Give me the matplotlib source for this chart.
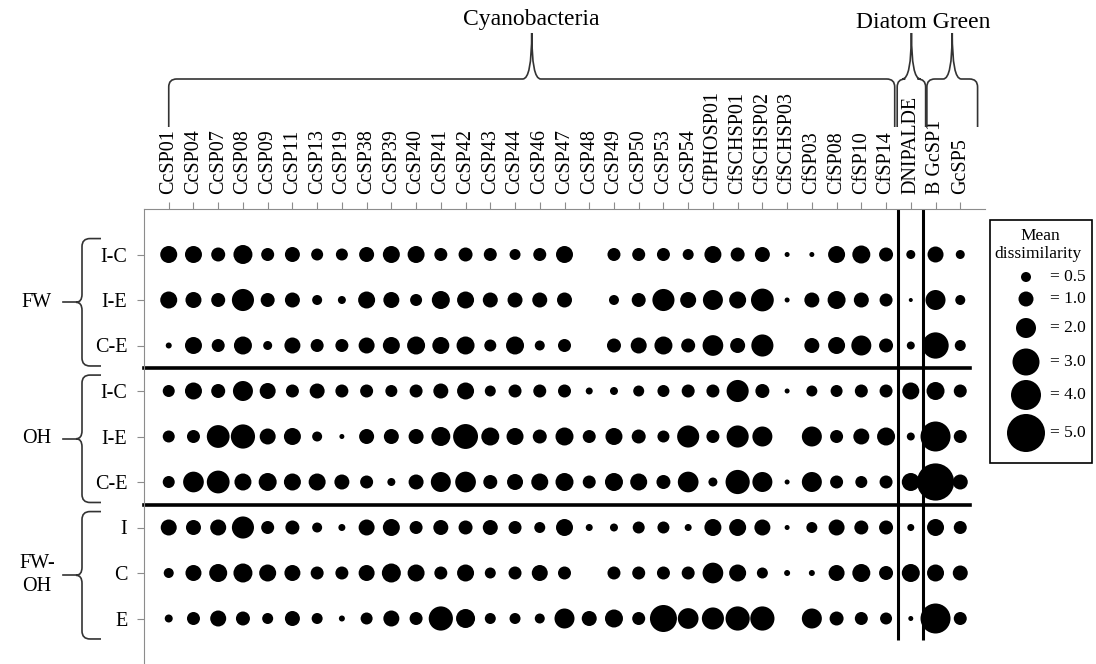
import numpy as np
import matplotlib
matplotlib.use("Agg")
import matplotlib.pyplot as plt
from matplotlib.path import Path
from matplotlib.patches import PathPatch, Rectangle

plt.rcParams['font.family'] = ['Liberation Serif', 'DejaVu Serif']

nan = np.nan

taxa = ["CcSP01", "CcSP04", "CcSP07", "CcSP08", "CcSP09", "CcSP11", "CcSP13",
        "CcSP19", "CcSP38", "CcSP39", "CcSP40", "CcSP41", "CcSP42", "CcSP43",
        "CcSP44", "CcSP46", "CcSP47", "CcSP48", "CcSP49", "CcSP50", "CcSP53",
        "CcSP54", "CfPHOSP01", "CfSCHSP01", "CfSCHSP02", "CfSCHSP03", "CfSP03",
        "CfSP08", "CfSP10", "CfSP14", "DNIPALDE", "B GcSP1", "GcSP5"]
row_labels = ["I-C", "I-E", "C-E", "I-C", "I-E", "C-E", "I", "C", "E"]
groups = ["FW", "OH", "FW-\nOH"]
taxon_groups = ["Cyanobacteria", "Diatom Green"]

# mean dissimilarity, one list per row (nan = no bubble)
fw_ic = [1.4, 1.4, 0.9, 1.8, 0.8, 1.0, 0.7, 0.7, 1.0, 1.4, 1.4, 0.8, 0.9, 0.8, 0.6, 0.8,
         1.4, nan, 0.8, 0.8, 0.8, 0.6, 1.4, 0.9, 1.0, 0.25, 0.25, 1.4, 1.6, 0.9, 0.45, 1.2, 0.45]
fw_ie = [1.4, 1.2, 0.9, 2.3, 0.9, 1.0, 0.5, 0.4, 1.4, 1.2, 0.7, 1.6, 1.4, 1.0, 1.0, 1.0,
         1.0, nan, 0.5, 0.9, 2.3, 1.2, 2.0, 1.4, 2.4, 0.25, 1.0, 1.6, 1.0, 0.8, 0.2, 2.0, 0.5]
fw_ce = [0.3, 1.4, 0.8, 1.6, 0.45, 1.2, 0.8, 0.8, 1.2, 1.4, 1.6, 1.4, 1.6, 0.7, 1.6, 0.5,
         0.8, nan, 0.9, 1.2, 1.6, 0.9, 2.1, 1.0, 2.3, nan, 1.0, 1.4, 2.0, 0.9, 0.4, 2.9, 0.6]
oh_ic = [0.7, 1.4, 0.9, 2.0, 1.2, 0.8, 1.0, 0.8, 0.8, 0.7, 0.8, 1.0, 1.4, 0.6, 0.8, 0.8,
         0.8, 0.35, 0.4, 0.6, 0.7, 0.8, 0.8, 2.3, 0.9, 0.25, 0.6, 0.7, 0.8, 0.8, 1.4, 1.6, 0.8]
oh_ie = [0.7, 0.8, 2.4, 2.6, 1.2, 1.4, 0.5, 0.25, 1.0, 1.0, 1.0, 1.8, 2.7, 1.6, 1.4, 0.9,
         1.6, 0.8, 1.4, 0.9, 0.7, 2.3, 0.8, 2.3, 2.0, nan, 2.0, 0.8, 1.2, 1.6, 0.4, 4.0, 0.8]
oh_ce = [0.7, 2.1, 2.4, 1.4, 1.6, 1.4, 1.4, 1.0, 0.8, 0.4, 1.0, 2.0, 2.1, 0.9, 1.2, 1.4,
         1.6, 0.8, 1.6, 1.4, 0.9, 2.1, 0.45, 2.6, 2.0, 0.25, 2.0, 0.8, 0.7, 0.8, 1.6, 4.9, 1.0]
fwoh_i = [1.2, 1.0, 1.2, 2.3, 0.8, 0.9, 0.5, 0.35, 1.2, 1.4, 0.8, 1.0, 0.9, 1.0, 0.8, 0.6,
          1.4, 0.35, 0.4, 0.7, 0.7, 0.35, 1.4, 1.4, 1.2, 0.25, 0.6, 1.2, 0.9, 0.9, 0.35, 1.4, 0.8]
fwoh_c = [0.5, 1.2, 1.6, 1.8, 1.4, 1.2, 0.8, 0.8, 1.2, 1.8, 1.4, 0.8, 1.4, 0.6, 0.8, 1.2,
          0.8, nan, 0.8, 0.8, 0.8, 0.8, 2.1, 1.4, 0.6, 0.3, 0.3, 1.2, 1.6, 0.9, 1.6, 1.4, 1.0]
fwoh_e = [0.4, 0.8, 1.2, 0.9, 0.6, 1.0, 0.6, 0.3, 0.7, 1.2, 0.8, 2.6, 1.8, 0.6, 0.6, 0.5,
          2.0, 1.0, 1.6, 0.8, 3.0, 2.1, 2.3, 2.6, 2.6, nan, 2.0, 0.9, 0.8, 0.7, 0.25, 4.0, 0.8]
rows = [fw_ic, fw_ie, fw_ce, oh_ic, oh_ie, oh_ce, fwoh_i, fwoh_c, fwoh_e]

key_values = [0.5, 1.0, 2.0, 3.0, 4.0, 5.0]
key_diam_px = [10, 15, 20, 27, 30, 38]


def bubble_size(v):
    d = np.interp(v, [0] + key_values, [0] + key_diam_px)
    return (d * 0.72) ** 2


W, H = 1096, 664
fig = plt.figure(figsize=(W / 100, H / 100), dpi=100)
ax = fig.add_axes([144 / W, 0, (985 - 144) / W, (664 - 209) / H])
ax.set_xlim(0, len(taxa) + 1)
ax.set_ylim(len(rows) + 1, 0)

cols = np.arange(1, len(taxa) + 1)
for i, vals in enumerate(rows):
    vals = np.array(vals, dtype=float)
    ok = ~np.isnan(vals)
    ax.scatter(cols[ok], np.full(ok.sum(), i + 1), s=bubble_size(vals[ok]),
               color='black', edgecolors='none', clip_on=False, zorder=3)

ax.set_xticks(cols)
ax.set_xticklabels(taxa, rotation=90, fontsize=14.5)
ax.xaxis.tick_top()
ax.set_yticks(np.arange(1, len(rows) + 1))
ax.set_yticklabels(row_labels, fontsize=14.5)
ax.tick_params(axis='x', direction='out', length=5, color='#8c8c8c', pad=6)
ax.tick_params(axis='y', direction='out', length=5, color='#8c8c8c', pad=7)
for s in ['right', 'bottom']:
    ax.spines[s].set_visible(False)
for s in ['top', 'left']:
    ax.spines[s].set_color('#8c8c8c')

# separators between sites and taxon groups
ax.plot([0, 33.4], [3.5, 3.5], color='black', lw=2.6, clip_on=False)
ax.plot([0, 33.4], [6.5, 6.5], color='black', lw=2.6, clip_on=False)
ax.vlines([30.5, 31.5], 0, 9.47, color='black', lw=2.2)

# overlay in pixel coordinates for braces and the size key
ov = fig.add_axes([0, 0, 1, 1])
ov.set_xlim(0, W)
ov.set_ylim(H, 0)
ov.axis('off')


def px(x, y):
    X, Y = ax.transData.transform((x, y))
    return X, H - Y


C3, L, M = Path.CURVE3, Path.LINETO, Path.MOVETO


def top_brace(xa, xb, y_end=127, y_line=79, y_tip=33, r=8, rt=9):
    x0 = px(xa, 0)[0]
    x1 = px(xb, 0)[0]
    xm = (x0 + x1) / 2
    verts = [(x0, y_end), (x0, y_line + r), (x0, y_line), (x0 + r, y_line),
             (xm - rt, y_line), (xm, y_line), (xm, y_tip), (xm, y_line), (xm + rt, y_line),
             (x1 - r, y_line), (x1, y_line), (x1, y_line + r), (x1, y_end)]
    codes = [M, L, C3, C3, L, C3, C3, C3, C3, L, C3, C3, L]
    ov.add_patch(PathPatch(Path(verts, codes), fill=False, lw=1.2, color='#333333'))
    return xm


def left_brace(ra, rb, x_end=101, x_line=82, x_tip=76, x_dash=63, r=8, rt=8):
    y0 = px(0, ra)[1]
    y1 = px(0, rb)[1]
    ym = (y0 + y1) / 2
    verts = [(x_end, y0), (x_line + r, y0), (x_line, y0), (x_line, y0 + r),
             (x_line, ym - rt), (x_line, ym), (x_tip, ym), (x_line, ym), (x_line, ym + rt),
             (x_line, y1 - r), (x_line, y1), (x_line + r, y1), (x_end, y1)]
    codes = [M, L, C3, C3, L, C3, C3, C3, C3, L, C3, C3, L]
    ov.add_patch(PathPatch(Path(verts, codes), fill=False, lw=1.2, color='#333333'))
    ov.plot([x_dash, x_tip], [ym, ym], color='#333333', lw=1.2)
    return ym


cx = top_brace(1, 30.35)
top_brace(30.45, 31.6)
top_brace(31.65, 33.7)
ov.text(cx, 20, taxon_groups[0], ha='center', va='center', fontsize=17)
ov.text(px(31.5, 0)[0], 22, taxon_groups[1], ha='center', va='center', fontsize=17)

for g, (ra, rb) in zip(groups, [(0.65, 3.45), (3.65, 6.45), (6.65, 9.45)]):
    ym = left_brace(ra, rb)
    ov.text(37, ym, g, ha='center', va='center', fontsize=14.5, linespacing=1.3)

# size key
ov.add_patch(Rectangle((990, 220), 102, 243, fill=False, lw=1.2, color='black'))
ov.text(1040, 236, "Mean", ha='center', va='center', fontsize=12.5)
ov.text(1038, 254, "dissimilarity", ha='center', va='center', fontsize=12.5)
key_y = [277, 299, 328, 362, 395, 433]
ov.scatter([1026] * len(key_values), key_y, s=bubble_size(np.array(key_values)),
           color='black', edgecolors='none')
for v, y in zip(key_values, key_y):
    ov.text(1050, y, "= %.1f" % v, ha='left', va='center', fontsize=12.5)

fig.savefig("out.png", dpi=100)
